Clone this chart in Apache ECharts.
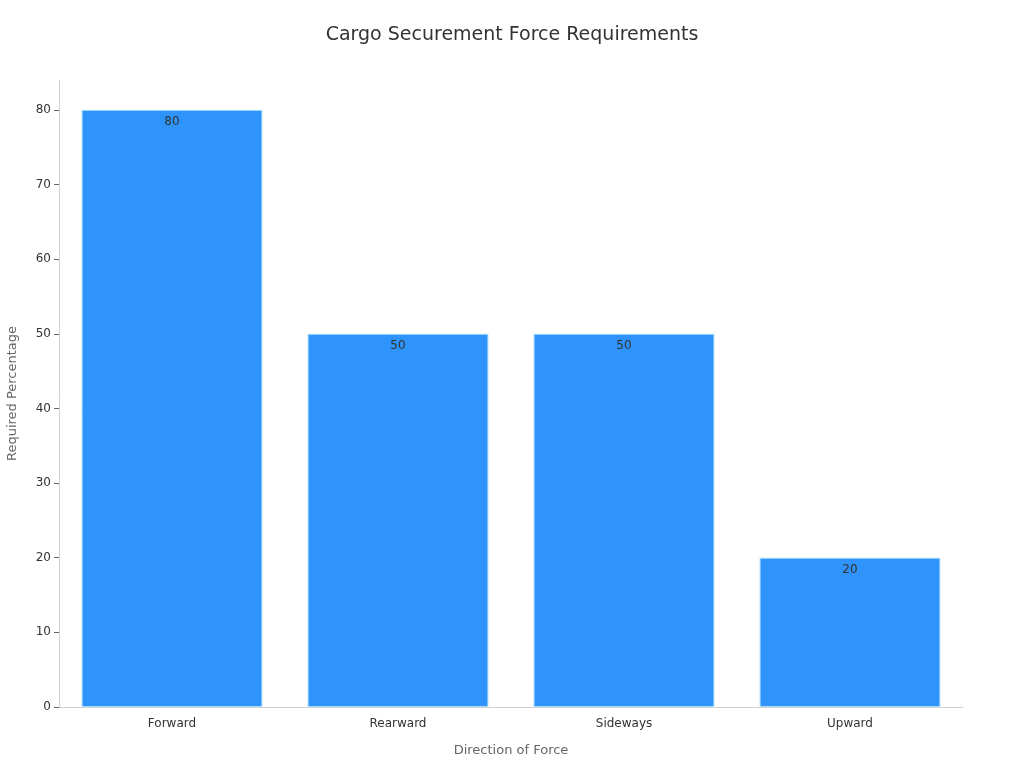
<!DOCTYPE html>
<html>
<head>
<meta charset="utf-8">
<script src="https://cdn.jsdelivr.net/npm/echarts@6/dist/echarts.min.js"></script>
<style>
  html, body { margin: 0; padding: 0; background: #fff; }
  #main { width: 1024px; height: 768px; }
</style>
</head>
<body>
<div id="main"></div>
<script>
const directions = ['Forward', 'Rearward', 'Sideways', 'Upward'];
const requiredPct = [80, 50, 50, 20];
const yTicks = [0, 10, 20, 30, 40, 50, 60, 70, 80];

const chart = echarts.init(document.getElementById('main'));
const font = "'DejaVu Sans', sans-serif";

chart.setOption({
    backgroundColor: '#ffffff',
    animation: false,
    textStyle: { fontFamily: font },
    title: {
        text: 'Cargo Securement Force Requirements',
        left: 'center', top: 21,
        textStyle: { fontSize: 19, fontWeight: 'normal', color: '#333', fontFamily: font }
    },
    grid: { left: 59, right: 61, top: 80, bottom: 61, outerBoundsMode: 'none', containLabel: false },
    xAxis: {
        type: 'category',
        data: directions,
        name: 'Direction of Force',
        nameLocation: 'middle', nameGap: 37,
        nameTextStyle: { fontSize: 13, color: '#666' },
        axisLine: { lineStyle: { color: '#d0d0d0' } },
        axisTick: { alignWithLabel: true, lineStyle: { color: '#999' } },
        axisLabel: { fontSize: 12, color: '#333', margin: 11 }
    },
    yAxis: {
        type: 'value',
        min: 0, max: 84, interval: 10,
        name: 'Required Percentage',
        nameLocation: 'middle', nameGap: 40,
        nameTextStyle: { fontSize: 13, color: '#666' },
        axisLine: { show: true, lineStyle: { color: '#d0d0d0' } },
        axisTick: { show: true, lineStyle: { color: '#666' }, customValues: yTicks },
        axisLabel: { fontSize: 12, color: '#333', customValues: yTicks },
        splitLine: { show: false }
    },
    series: [{
        type: 'bar',
        data: requiredPct,
        barCategoryGap: '20%',
        itemStyle: { color: '#2E93FA', borderColor: '#a8dcff', borderWidth: 1 },
        label: {
            show: true, position: 'insideTop', distance: 6,
            fontSize: 12, color: '#333'
        }
    }]
});
</script>
</body>
</html>
